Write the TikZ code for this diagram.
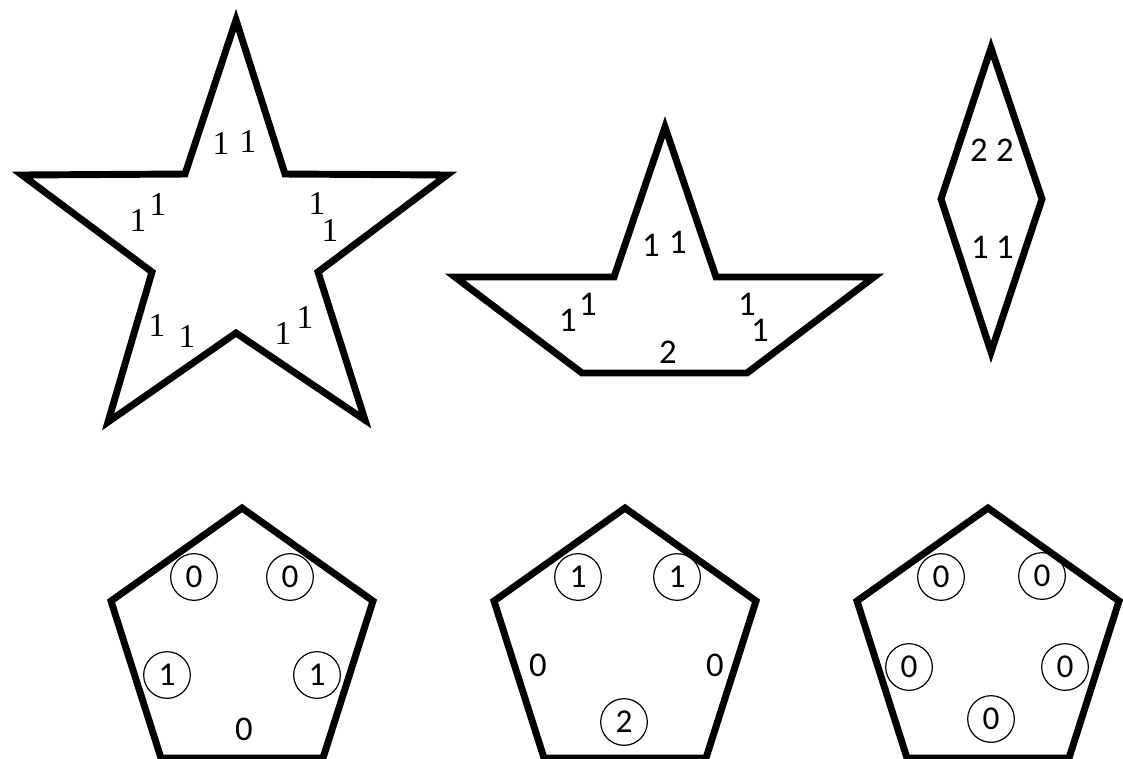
\documentclass[tikz,border=0pt]{standalone}
\usepackage{fontspec}
\setmainfont{Carlito}
\newfontfamily\serifdig{Liberation Serif}
\begin{document}
\begin{tikzpicture}[x=0.75pt,y=-0.75pt,
  shapeline/.style={line width=5.2pt, line join=miter, miter limit=20},
  dig/.style={inner sep=0pt, font=\fontsize{26}{26}\selectfont},
  sdig/.style={inner sep=0pt, font=\serifdig\fontsize{25}{25}\selectfont},
  cdig/.style={draw, circle, line width=0.9pt, minimum size=35pt, inner sep=0pt, font=\fontsize{25}{25}\selectfont}]
\useasboundingbox (0,0) rectangle (1123,758);

% star
\draw[shapeline] (236,20) -- (285,174) -- (447,175) -- (318,272) -- (365,420) -- (236,333)
  -- (108,422) -- (152,272) -- (22,175) -- (185,174) -- cycle;
\node[sdig] (s1) at (221,143) {1};
\node[sdig] (s2) at (248,141) {1};
\node[sdig] (s3) at (138,220) {1};
\node[sdig] (s4) at (158,204) {1};
\node[sdig] (s5) at (317,203) {1};
\node[sdig] (s6) at (330,230) {1};
\node[sdig] (s7) at (157,325) {1};
\node[sdig] (s8) at (187,336) {1};
\node[sdig] (s9) at (283,333) {1};
\node[sdig] (s10) at (305,317) {1};

% boat
\draw[shapeline] (665,127) -- (716,277) -- (874,277) -- (747,373) -- (582,373) -- (455,277)
  -- (614,277) -- cycle;
\node[dig] (b1) at (651,245) {1};
\node[dig] (b2) at (678,242) {1};
\node[dig] (b3) at (568,320) {1};
\node[dig] (b4) at (588,304) {1};
\node[dig] (b5) at (747,304) {1};
\node[dig] (b6) at (760,330) {1};
\node[dig] (b7) at (668,352) {2};

% rhombus
\draw[shapeline] (991,48) -- (1042,199) -- (991,352) -- (941,199) -- cycle;
\node[dig] (r1) at (979,150) {2};
\node[dig] (r2) at (1005,150) {2};
\node[dig] (r3) at (980,247) {1};
\node[dig] (r4) at (1005,247) {1};

% pentagon 1
\draw[shapeline] (242,508) -- (373,601) -- (323,758) -- (161,758) -- (111,601) -- cycle;
\node[cdig] (p1a) at (194,577) {0};
\node[cdig] (p1b) at (290,577) {0};
\node[cdig] (p1c) at (167,675) {1};
\node[cdig] (p1d) at (317,675) {1};
\node[dig] (p1e) at (244,729) {0};

% pentagon 2
\draw[shapeline] (625,508) -- (756,601) -- (706,758) -- (544,758) -- (494,601) -- cycle;
\node[cdig] (p2a) at (578,577) {1};
\node[cdig] (p2b) at (677,577) {1};
\node[dig] (p2c) at (538,665) {0};
\node[dig] (p2d) at (715,665) {0};
\node[cdig] (p2e) at (624,722) {2};

% pentagon 3
\draw[shapeline] (988,508) -- (1119,601) -- (1069,758) -- (907,758) -- (857,601) -- cycle;
\node[cdig] (p3a) at (941,577) {0};
\node[cdig] (p3b) at (1042,576) {0};
\node[cdig] (p3c) at (909,667) {0};
\node[cdig] (p3d) at (1065,667) {0};
\node[cdig] (p3e) at (991,719) {0};
\end{tikzpicture}
\end{document}
